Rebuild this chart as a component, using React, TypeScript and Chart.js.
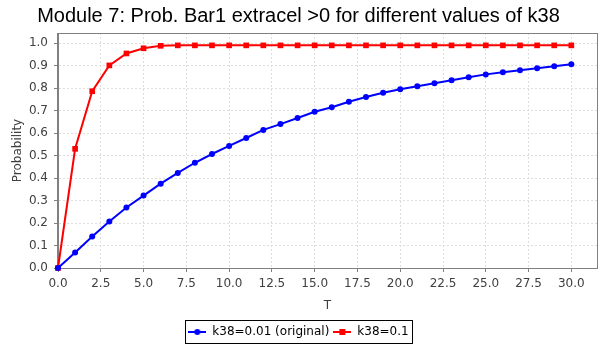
import React, { useEffect, useRef } from 'react';
import { Chart, registerables } from 'chart.js';

Chart.register(...registerables);

const TITLE = 'Module 7: Prob. Bar1 extracel >0 for different values of k38';
const X_TITLE = 'T';
const Y_TITLE = 'Probability';
const SERIES_LABELS = ['k38=0.01 (original)', 'k38=0.1'];
const T_VALUES = [0, 1, 2, 3, 4, 5, 6, 7, 8, 9, 10, 11, 12, 13, 14, 15, 16, 17, 18, 19, 20, 21, 22, 23, 24, 25, 26, 27, 28, 29, 30];
const K38_001 = [0, 0.069, 0.14, 0.207, 0.269, 0.322, 0.375, 0.423, 0.468, 0.507, 0.543, 0.578, 0.614, 0.64, 0.667, 0.695, 0.715, 0.739, 0.76, 0.779, 0.795, 0.808, 0.822, 0.835, 0.848, 0.861, 0.87, 0.879, 0.888, 0.897, 0.906];
const K38_01 = [0, 0.53, 0.786, 0.901, 0.954, 0.977, 0.988, 0.99, 0.99, 0.99, 0.99, 0.99, 0.99, 0.99, 0.99, 0.99, 0.99, 0.99, 0.99, 0.99, 0.99, 0.99, 0.99, 0.99, 0.99, 0.99, 0.99, 0.99, 0.99, 0.99, 0.99];
const X_MIN = 0;
const X_MAX = 31.5;
const X_STEP = 2.5;
const Y_MIN = 0;
const Y_MAX = 1.045;
const Y_STEP = 0.1;

const COLORS = ['#0000ff', '#ff0000'];
const STYLES = ['circle', 'rect'];

function makeGlyph(color: string, style: string): HTMLCanvasElement {
  const c = document.createElement('canvas');
  c.width = 18;
  c.height = 8;
  const g = c.getContext('2d')!;
  g.strokeStyle = color;
  g.lineWidth = 2;
  g.beginPath();
  g.moveTo(0, 4);
  g.lineTo(18, 4);
  g.stroke();
  g.fillStyle = color;
  if (style === 'circle') {
    g.beginPath();
    g.arc(9, 4, 3, 0, Math.PI * 2);
    g.fill();
  } else {
    g.fillRect(6, 1, 6, 6);
  }
  return c;
}

const frame = {
  id: 'frame',
  beforeDatasetsDraw(chart: any) {
    const { ctx, chartArea } = chart;
    ctx.save();
    ctx.strokeStyle = '#808080';
    ctx.lineWidth = 1;
    ctx.strokeRect(Math.round(chartArea.left) - 0.5, Math.round(chartArea.top) + 0.5, Math.round(chartArea.right - chartArea.left) + 1, Math.round(chartArea.bottom - chartArea.top));
    ctx.restore();
  },
  afterDraw(chart: any) {
    const lg = chart.legend;
    if (!lg || !lg.legendHitBoxes || !lg.legendHitBoxes.length) return;
    const hb = lg.legendHitBoxes;
    let l = Infinity, r = -Infinity, t = Infinity, b = -Infinity;
    hb.forEach((h: any) => {
      l = Math.min(l, h.left);
      r = Math.max(r, h.left + h.width);
      t = Math.min(t, h.top);
      b = Math.max(b, h.top + h.height);
    });
    const { ctx } = chart;
    ctx.save();
    ctx.strokeStyle = '#000000';
    ctx.lineWidth = 1;
    ctx.strokeRect(Math.round(l - 3) + 0.5, Math.round(t - 6) + 0.5, Math.round(r - l + 7), Math.round(b - t + 11));
    ctx.restore();
  },
};

export default function App() {
  const ref = useRef<HTMLCanvasElement | null>(null);
  useEffect(() => {
    if (!ref.current) return;
    const glyphs = [makeGlyph(COLORS[0], STYLES[0]), makeGlyph(COLORS[1], STYLES[1])];
    const tickFont = { family: 'DejaVu Sans', size: 12 };
    const chart = new Chart(ref.current, {
      type: 'line',
      data: {
        datasets: [
          {
            label: SERIES_LABELS[0],
            data: T_VALUES.map((t, i) => ({ x: t, y: K38_001[i] })),
            borderColor: COLORS[0],
            backgroundColor: COLORS[0],
            borderWidth: 2,
            pointStyle: 'circle',
            pointRadius: 3,
            pointBorderWidth: 0,
            tension: 0,
            clip: false as any,
          },
          {
            label: SERIES_LABELS[1],
            data: T_VALUES.map((t, i) => ({ x: t, y: K38_01[i] })),
            borderColor: COLORS[1],
            backgroundColor: COLORS[1],
            borderWidth: 2,
            pointStyle: 'rect',
            pointRadius: 4,
            pointBorderWidth: 0,
            tension: 0,
            clip: false as any,
          },
        ],
      },
      options: {
        animation: false,
        responsive: true,
        maintainAspectRatio: false,
        layout: { padding: { top: 0, right: 12, bottom: -3, left: 0 } },
        plugins: {
          title: {
            display: true,
            text: TITLE,
            color: '#000000',
            font: { family: 'Liberation Sans', size: 20, weight: 'normal' },
            padding: { top: 4, bottom: 5 },
          },
          legend: {
            position: 'bottom',
            labels: {
              usePointStyle: true,
              pointStyleWidth: 18,
              padding: 4,
              color: '#000000',
              font: { family: 'DejaVu Sans', size: 12 },
              generateLabels: (c: any) =>
                c.data.datasets.map((ds: any, i: number) => ({
                  text: ds.label,
                  pointStyle: glyphs[i],
                  fillStyle: COLORS[i],
                  strokeStyle: COLORS[i],
                  lineWidth: 0,
                  hidden: false,
                  datasetIndex: i,
                  fontColor: '#000000',
                })),
            },
          },
          tooltip: { enabled: false },
        },
        scales: {
          x: {
            type: 'linear',
            min: X_MIN,
            max: X_MAX,
            afterFit: (s: any) => { s.height = 54; },
            ticks: {
              stepSize: X_STEP,
              includeBounds: false,
              maxRotation: 0,
              autoSkip: false,
              padding: 5,
              color: '#404040',
              font: tickFont,
              callback: (v: any) => Number(v).toFixed(1),
            },
            grid: { color: '#dddddd', tickColor: '#808080', tickLength: 4, drawTicks: true, tickBorderDash: [] },
            border: { display: true, color: '#808080', dash: [2, 2] },
            title: { display: true, text: X_TITLE, color: '#404040', font: { family: 'DejaVu Sans', size: 12 }, padding: { top: 0, bottom: 9 } },
          },
          y: {
            type: 'linear',
            min: Y_MIN,
            max: Y_MAX,
            afterFit: (s: any) => { s.width = 58; },
            ticks: {
              stepSize: Y_STEP,
              includeBounds: false,
              padding: 6,
              color: '#404040',
              font: tickFont,
              callback: (v: any) => Number(v).toFixed(1),
            },
            grid: { color: '#dddddd', tickColor: '#808080', tickLength: 4, drawTicks: true, tickBorderDash: [] },
            border: { display: true, color: '#808080', dash: [2, 2] },
            title: { display: true, text: Y_TITLE, color: '#404040', font: { family: 'DejaVu Sans', size: 12 }, padding: { top: 11, bottom: 0 } },
          },
        },
      },
      plugins: [frame],
    } as any);
    return () => chart.destroy();
  }, []);
  return (
    <div style={{ position: 'fixed', left: 0, top: 0, width: 609, height: 345, background: '#ffffff' }}>
      <canvas ref={ref} />
    </div>
  );
}
